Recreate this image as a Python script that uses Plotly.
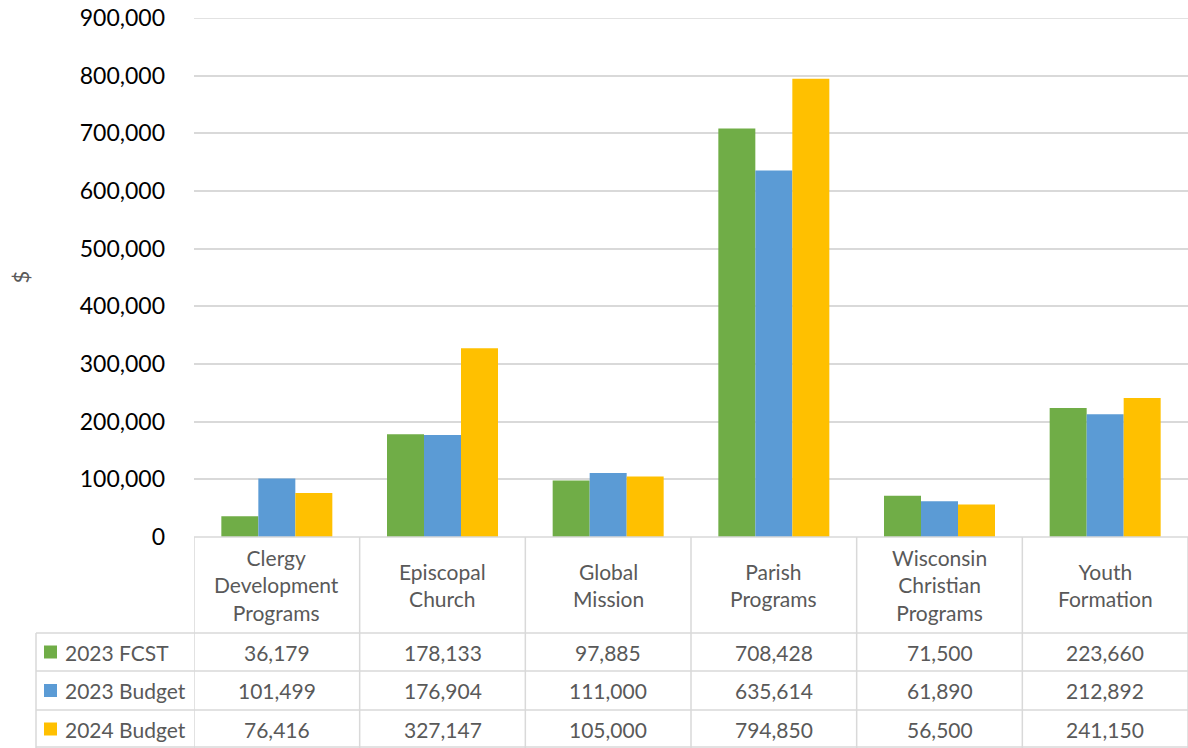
import plotly.graph_objects as go

# ---------------- data ----------------
categories = [
    "Clergy Development Programs",
    "Episcopal Church",
    "Global Mission",
    "Parish Programs",
    "Wisconsin Christian Programs",
    "Youth Formation",
]
header_labels = [
    "Clergy<br>Development<br>Programs",
    "Episcopal<br>Church",
    "Global<br>Mission",
    "Parish<br>Programs",
    "Wisconsin<br>Christian<br>Programs",
    "Youth<br>Formation",
]
series_names = ["2023 FCST", "2023 Budget", "2024 Budget"]
fcst_2023 = [36179, 178133, 97885, 708428, 71500, 223660]
budget_2023 = [101499, 176904, 111000, 635614, 61890, 212892]
budget_2024 = [76416, 327147, 105000, 794850, 56500, 241150]
y_ticks = [0, 100000, 200000, 300000, 400000, 500000, 600000, 700000, 800000, 900000]
y_title = "$"

series_values = [fcst_2023, budget_2023, budget_2024]
colors = ["#70AD47", "#5B9BD5", "#FFC000"]

# ---------------- layout geometry (pixels) ----------------
W, H = 1188, 748
ML, MR, MT, MB = 194, 0, 18, 211
PW = W - ML - MR
PH = H - MT - MB
PLOT_BOTTOM = H - MB


def px_x(px):
    return (px - ML) / PW


def px_y(py):
    return (PLOT_BOTTOM - py) / PH


GRID = "#D9D9D9"
TXT = "#595959"
FONT = "Lato"

TABLE_LEFT = 36
HEADER_BOTTOM = 633
ROW_BOTTOMS = [671, 710, 748]

fig = go.Figure()
for name, vals, col in zip(series_names, series_values, colors):
    fig.add_trace(go.Bar(x=categories, y=vals, name=name,
                         marker=dict(color=col, line=dict(width=0))))

shapes = []
annotations = []

# top gridline (at the upper range edge)
shapes.append(dict(type="line", xref="paper", yref="y", layer="below",
                   x0=0, x1=1, y0=y_ticks[-1], y1=y_ticks[-1],
                   line=dict(color=GRID, width=1.5)))
# top border of table / x axis line
shapes.append(dict(type="line", xref="paper", yref="paper",
                   x0=0, x1=1, y0=0, y1=0, line=dict(color=GRID, width=1.5)))
# horizontal row lines
for yb in [HEADER_BOTTOM] + ROW_BOTTOMS[:-1] + [ROW_BOTTOMS[-1] - 1]:
    shapes.append(dict(type="line", xref="paper", yref="paper",
                       x0=px_x(TABLE_LEFT), x1=1, y0=px_y(yb), y1=px_y(yb),
                       line=dict(color=GRID, width=1.5)))
# vertical lines at category boundaries
for i in range(len(categories) + 1):
    shapes.append(dict(type="line", xref="x", yref="paper",
                       x0=i - 0.5, x1=i - 0.5, y0=0, y1=px_y(H),
                       line=dict(color=GRID, width=1.5)))
# left border of row label column
shapes.append(dict(type="line", xref="paper", yref="paper",
                   x0=px_x(TABLE_LEFT), x1=px_x(TABLE_LEFT),
                   y0=px_y(HEADER_BOTTOM), y1=px_y(H),
                   line=dict(color=GRID, width=1.5)))

# header labels
for cat, lab in zip(categories, header_labels):
    annotations.append(dict(xref="x", yref="paper", x=cat,
                            y=px_y((PLOT_BOTTOM + HEADER_BOTTOM) / 2),
                            text=lab, showarrow=False, xanchor="center", yanchor="middle",
                            font=dict(family=FONT, size=21, color=TXT)))

# rows
row_tops = [HEADER_BOTTOM] + ROW_BOTTOMS[:-1]
for r, (name, vals, col) in enumerate(zip(series_names, series_values, colors)):
    yc = (row_tops[r] + ROW_BOTTOMS[r]) / 2
    shapes.append(dict(type="rect", xref="paper", yref="paper",
                       x0=px_x(44), x1=px_x(57), y0=px_y(yc - 6.5), y1=px_y(yc + 6.5),
                       fillcolor=col, line=dict(width=0)))
    annotations.append(dict(xref="paper", yref="paper", x=px_x(63), y=px_y(yc),
                            text=name, showarrow=False, xanchor="left", yanchor="middle",
                            font=dict(family=FONT, size=21, color=TXT)))
    for cat, v in zip(categories, vals):
        annotations.append(dict(xref="x", yref="paper", x=cat, y=px_y(yc),
                                text=f"{v:,}", showarrow=False,
                                xanchor="center", yanchor="middle",
                                font=dict(family=FONT, size=21, color=TXT)))

# y axis title
annotations.append(dict(xref="paper", yref="paper", x=px_x(20), y=0.5,
                        text=y_title, textangle=-90, showarrow=False,
                        xanchor="center", yanchor="middle",
                        font=dict(family=FONT, size=22, color=TXT)))

fig.update_layout(
    width=W, height=H, autosize=False,
    margin=dict(l=ML, r=MR, t=MT, b=MB, pad=0),
    paper_bgcolor="white", plot_bgcolor="white",
    barmode="group", bargap=0.33, bargroupgap=0,
    showlegend=False,
    font=dict(family=FONT),
    shapes=shapes, annotations=annotations,
    xaxis=dict(showticklabels=False, showgrid=False, zeroline=False, showline=False,
               range=[-0.5, len(categories) - 0.5], fixedrange=True),
    yaxis=dict(range=[0, 900000], tickvals=y_ticks, tickformat=",",
               showgrid=True, gridcolor=GRID, gridwidth=1.5, zeroline=False,
               showline=False, ticks="", ticklabelstandoff=28,
               tickfont=dict(family=FONT, size=23, color="#000000")),
)

fig.write_html("out.html", config={"displayModeBar": False},
               post_script="document.body.style.margin='0';")
